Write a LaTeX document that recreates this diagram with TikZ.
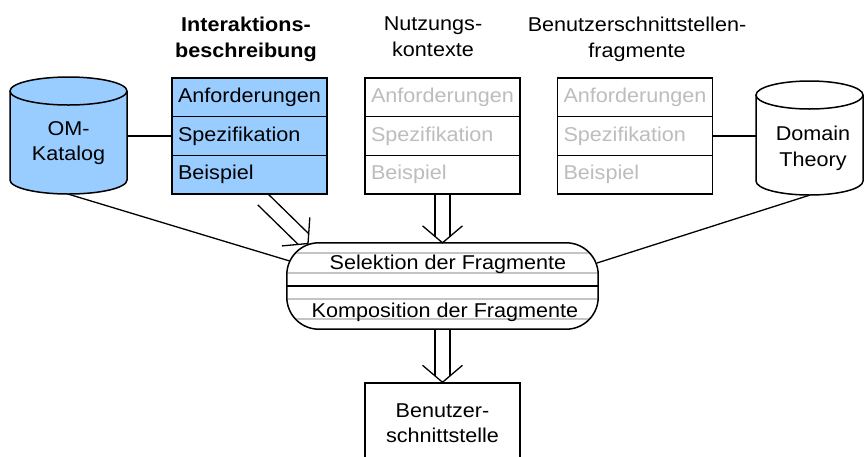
\documentclass[tikz,border=0pt]{standalone}
\usepackage{fontspec}
\setmainfont{Liberation Sans}[FakeStretch=1.08]
\usetikzlibrary{calc}

\definecolor{catblue}{HTML}{99CCFF}
\definecolor{fadetext}{HTML}{BDBDBD}
\definecolor{ruleline}{HTML}{C4C4C4}

\tikzset{
  x=1pt, y=-1pt,
  txt/.style={font=\fontsize{20}{25.5}\selectfont},
  every node/.style={txt},
  outline/.style={draw=black, line width=1.5pt},
  link/.style={draw=black, line width=1.3pt},
  hollow/.style={draw=black, line width=1.3pt},
  rowbox/.style={outline, minimum height=38.67pt, text width=143pt,
    inner xsep=6pt, inner ysep=0pt, align=left, text height=14pt, text depth=4pt},
  bluerow/.style={rowbox, fill=catblue},
  greyrow/.style={rowbox, fill=white, text=fadetext},
  heading/.style={align=center, anchor=north, inner sep=0pt},
  band/.style={draw=ruleline, line width=1.5pt},
}

% database drum: centre x, top y, bottom y, x radius, y radius, fill
\newcommand\drumshape[6]{%
  \fill[#6] (#1-#4,#2) rectangle (#1+#4,#3);
  \fill[#6] (#1,#3) ellipse [x radius=#4, y radius=#5];
  \draw[outline] (#1-#4,#2) -- (#1-#4,#3)
     arc [start angle=180, end angle=0, x radius=#4, y radius=#5] -- (#1+#4,#2);
  \filldraw[outline, fill=#6] (#1,#2) ellipse [x radius=#4, y radius=#5];
}

% hollow double-shafted arrow from #1 to the tip #2
\newcommand\hollowarrow[2]{%
  \coordinate (hb) at ($(#2)!17pt!(#1)$);
  \coordinate (he) at ($(#2)!6pt!(#1)$);
  \draw[hollow] ($(#1)!7.5pt!90:(#2)$) -- ($(he)!7.5pt!90:(#2)$);
  \draw[hollow] ($(#1)!7.5pt!-90:(#2)$) -- ($(he)!7.5pt!-90:(#2)$);
  \draw[hollow] ($(hb)!20pt!90:(#2)$) -- (#2) -- ($(hb)!20pt!-90:(#2)$);
}

\begin{document}
\begin{tikzpicture}
\useasboundingbox (0,0) rectangle (864,456);
\clip (0,0) rectangle (864,456);

% headings
\node[heading, font=\fontsize{20}{25.5}\selectfont\bfseries] (h1) at (246,17) {Interaktions-\\beschreibung};
\node[heading] (h2) at (433,17) {Nutzungs-\\kontexte};
\node[heading] (h3) at (637,17) {Benutzerschnittstellen-\\fragmente};

% fragment tables
\node[bluerow] (ia1) at (249.5,97.33) {Anforderungen};
\node[bluerow] (ia2) at (249.5,136) {Spezifikation};
\node[bluerow] (ia3) at (249.5,174.67) {Beispiel};

\node[greyrow] (nk1) at (442.5,97.33) {Anforderungen};
\node[greyrow] (nk2) at (442.5,136) {Spezifikation};
\node[greyrow] (nk3) at (442.5,174.67) {Beispiel};

\node[greyrow] (bf1) at (635,97.33) {Anforderungen};
\node[greyrow] (bf2) at (635,136) {Spezifikation};
\node[greyrow] (bf3) at (635,174.67) {Beispiel};

% databases
\drumshape{68.5}{91}{180}{58.5}{14}{catblue}
\node[minimum width=117pt, minimum height=117pt, inner sep=0pt] (om) at (68.5,135.5) {};
\node[heading] (omlabel) at (68.5,121) {OM-\\Katalog};

\drumshape{809.5}{95}{181}{53.5}{14}{white}
\node[minimum width=107pt, minimum height=114pt, inner sep=0pt] (dt) at (809.5,138) {};
\node[heading] (dtlabel) at (813,126) {Domain\\Theory};

% connections
\coordinate (capL) at (293,262);
\coordinate (capR) at (597,263);
\draw[link] (ia2.west -| om.east) -- (ia2.west);
\draw[link] (bf2.east) -- (bf2.east -| dt.west);
\draw[link] (om.south) -- (capL);
\draw[link] (dt.south) -- (capR);

% processing capsule
\node[fill=white, rounded corners=32pt, minimum width=311pt, minimum height=86pt, inner sep=0pt] (cap) at (442.5,286) {};
\begin{scope}
  \clip[rounded corners=32pt] (cap.south west) rectangle (cap.north east);
  \foreach \yy in {253,273,299,319}
    \draw[band] (cap.west |- 0,\yy) -- (cap.east |- 0,\yy);
\end{scope}
\draw[outline] (cap.west) -- (cap.east);
\draw[outline, rounded corners=32pt] (cap.south west) rectangle (cap.north east);
\node[anchor=base] (sel) at (448,269) {Selektion der Fragmente};
\node[anchor=base] (komp) at (445,317) {Komposition der Fragmente};

% result
\node[outline, minimum width=155pt, minimum height=80pt, align=center] (ui) at (442.5,423) {Benutzer-\\schnittstelle};

% flow arrows
\coordinate (iaout) at (263,199.5);
\coordinate (iatip) at (308,243.5);
\hollowarrow{iaout}{iatip}
\hollowarrow{nk3.south}{cap.north}
\hollowarrow{cap.south}{ui.north}
\end{tikzpicture}
\end{document}
